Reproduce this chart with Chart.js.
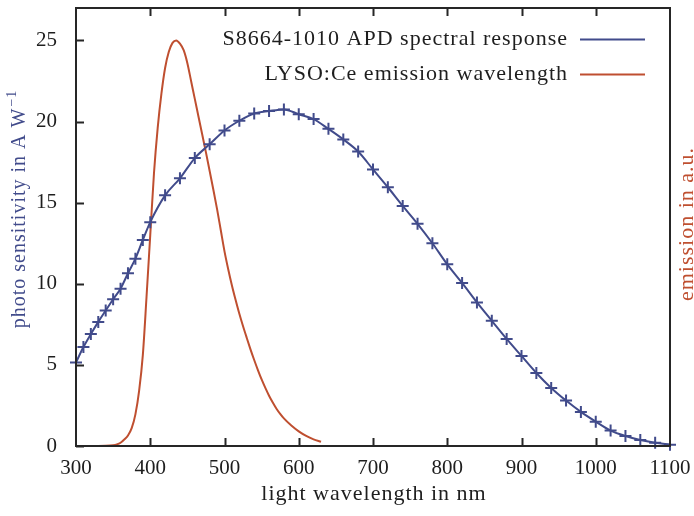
<!DOCTYPE html>
<html>
<head>
<meta charset="utf-8">
<script src="https://cdn.jsdelivr.net/npm/chart.js@4.4.1/dist/chart.umd.min.js"></script>
<style>
  html, body { margin: 0; padding: 0; background: #ffffff; }
  #wrap { width: 694px; height: 516px; }
</style>
</head>
<body>
<div id="wrap"><canvas id="c" width="694" height="516"></canvas></div>
<script>
// APD spectral response (photo sensitivity, A/W) sampled by wavelength in nm
const apdWavelength = [300, 310, 320, 330, 340, 350, 360, 370, 380, 390, 400,
  420, 440, 460, 480, 500, 520, 540, 560, 580, 600, 620, 640, 660, 680, 700,
  720, 740, 760, 780, 800, 820, 840, 860, 880, 900, 920, 940, 960, 980, 1000,
  1020, 1040, 1060, 1080, 1100];
const apdSensitivity = [5.15, 6.1, 6.9, 7.65, 8.35, 9.05, 9.7, 10.65, 11.55, 12.7, 13.8,
  15.45, 16.5, 17.75, 18.6, 19.45, 20.05, 20.5, 20.65, 20.75, 20.45, 20.15, 19.55, 18.9, 18.15, 17.05,
  15.95, 14.8, 13.7, 12.5, 11.2, 10.05, 8.85, 7.72, 6.6, 5.55, 4.5, 3.58, 2.8, 2.1, 1.5,
  0.95, 0.62, 0.37, 0.2, 0.08];

// LYSO:Ce emission spectrum (arbitrary units)
const lysoWavelength = [310, 320, 330, 340, 350, 355, 360, 365, 370, 375, 380, 385, 390, 395,
  400, 405, 410, 415, 420, 425, 430, 435, 440, 445, 450, 455, 460, 465, 470, 475,
  480, 485, 490, 495, 500, 505, 510, 515, 520, 525, 530, 535, 540, 545, 550, 555,
  560, 565, 570, 575, 580, 590, 600, 610, 620, 630];
const lysoEmission = [0, 0, 0, 0.01, 0.05, 0.1, 0.2, 0.4, 0.65, 1.1, 1.95, 3.4, 5.6, 9.2,
  13.0, 16.8, 19.6, 21.7, 23.3, 24.3, 24.85, 25.0, 24.8, 24.4, 23.6, 22.5, 21.4, 20.3, 19.2, 18.1,
  16.95, 15.8, 14.6, 13.3, 12.0, 10.9, 9.9, 9.0, 8.15, 7.38, 6.66, 5.96, 5.3, 4.68, 4.1, 3.58,
  3.1, 2.68, 2.3, 1.98, 1.7, 1.26, 0.9, 0.62, 0.41, 0.26];

const xTickValues = [300, 400, 500, 600, 700, 800, 900, 1000, 1100];
const yTickValues = [0, 5, 10, 15, 20, 25];

const seriesLabels = ['S8664-1010 APD spectral response', 'LYSO:Ce emission wavelength'];
const xTitle = 'light wavelength in nm';
const yTitleMain = 'photo sensitivity in A W';
const yTitleSup = '\u22121';
const y2Title = 'emission in a.u.';

const BLUE = '#414b8b';
const RED = '#bf4f30';
const INK = '#1e1e1e';
const FONT = '"Liberation Serif", "DejaVu Serif", serif';

function toPoints(xs, ys) {
  return xs.map((x, i) => ({ x: x, y: ys[i] }));
}

// keep the plot frame at a fixed place: no extra room for overhanging labels
function noScalePadding(scale) {
  scale.paddingLeft = 0;
  scale.paddingRight = 0;
  scale.paddingTop = 0;
  scale.paddingBottom = 0;
}

// frame, inward ticks, axis titles and legend
const decorations = {
  id: 'decorations',
  afterDatasetsDraw(chart) {
    const ctx = chart.ctx;
    const a = chart.chartArea;
    const xs = chart.scales.x;
    const ys = chart.scales.y;
    ctx.save();
    ctx.strokeStyle = '#262626';
    ctx.lineWidth = 2;
    ctx.beginPath();
    xTickValues.forEach(v => {
      const px = Math.round(xs.getPixelForValue(v)) + 0.5;
      if (v !== xTickValues[0] && v !== xTickValues[xTickValues.length - 1]) {
        ctx.moveTo(px, a.bottom); ctx.lineTo(px, a.bottom - 8);
        ctx.moveTo(px, a.top); ctx.lineTo(px, a.top + 8);
      }
    });
    yTickValues.forEach(v => {
      const py = Math.round(ys.getPixelForValue(v)) + 0.5;
      ctx.moveTo(a.left, py); ctx.lineTo(a.left + 8, py);
    });
    ctx.stroke();
    ctx.strokeRect(a.left, a.top, a.right - a.left, a.bottom - a.top);
    ctx.restore();
  },
  afterDraw(chart) {
    const ctx = chart.ctx;
    const a = chart.chartArea;
    ctx.save();
    ctx.letterSpacing = '1px';

    // x axis title
    ctx.fillStyle = INK;
    ctx.font = '22px ' + FONT;
    ctx.textAlign = 'center';
    ctx.textBaseline = 'middle';
    ctx.fillText(xTitle, (a.left + a.right) / 2 + 1, 494);

    // left axis title with superscript
    ctx.save();
    ctx.translate(18, 209);
    ctx.rotate(-Math.PI / 2);
    ctx.fillStyle = BLUE;
    ctx.font = '20px ' + FONT;
    const w1 = ctx.measureText(yTitleMain).width;
    ctx.font = '14px ' + FONT;
    const w2 = ctx.measureText(yTitleSup).width;
    const start = -(w1 + w2 + 1) / 2;
    ctx.textAlign = 'left';
    ctx.textBaseline = 'alphabetic';
    ctx.font = '20px ' + FONT;
    ctx.fillText(yTitleMain, start, 7);
    ctx.font = '14px ' + FONT;
    ctx.fillText(yTitleSup, start + w1 + 1, -2);
    ctx.restore();

    // right axis title
    ctx.save();
    ctx.translate(687, 224);
    ctx.rotate(-Math.PI / 2);
    ctx.fillStyle = RED;
    ctx.font = '22px ' + FONT;
    ctx.textAlign = 'center';
    ctx.textBaseline = 'middle';
    ctx.fillText(y2Title, 0, 0);
    ctx.restore();

    // legend: text right-aligned, line sample to the right
    ctx.font = '22px ' + FONT;
    ctx.textAlign = 'right';
    ctx.textBaseline = 'middle';
    chart.data.datasets.forEach((ds, i) => {
      const y = 39 + i * 35;
      ctx.fillStyle = INK;
      ctx.fillText(ds.label, 568, y);
      ctx.strokeStyle = ds.borderColor;
      ctx.lineWidth = 2;
      ctx.beginPath();
      ctx.moveTo(580, y + 0.5);
      ctx.lineTo(645, y + 0.5);
      ctx.stroke();
    });
    ctx.restore();
  }
};

new Chart(document.getElementById('c'), {
  type: 'line',
  data: {
    datasets: [
      {
        label: seriesLabels[0],
        data: toPoints(apdWavelength, apdSensitivity),
        borderColor: BLUE,
        backgroundColor: BLUE,
        borderWidth: 2,
        pointStyle: 'cross',
        pointRadius: 6,
        pointBorderWidth: 2,
        pointBorderColor: BLUE,
        cubicInterpolationMode: 'monotone',
        yAxisID: 'y',
        clip: false
      },
      {
        label: seriesLabels[1],
        data: toPoints(lysoWavelength, lysoEmission),
        borderColor: RED,
        backgroundColor: RED,
        borderWidth: 2,
        pointRadius: 0,
        cubicInterpolationMode: 'monotone',
        yAxisID: 'y1'
      }
    ]
  },
  options: {
    responsive: false,
    devicePixelRatio: 1,
    animation: false,
    layout: { padding: { top: 4, left: 0, right: 0, bottom: 0 } },
    plugins: {
      legend: { display: false },
      tooltip: { enabled: false }
    },
    scales: {
      x: {
        type: 'linear',
        min: 300,
        max: 1100,
        afterBuildTicks(scale) { scale.ticks = xTickValues.map(v => ({ value: v })); },
        afterFit(scale) { scale.height = 70; noScalePadding(scale); },
        grid: { display: false, drawTicks: false },
        border: { display: false },
        ticks: {
          padding: 10, color: INK, font: { family: FONT, size: 21 }, maxRotation: 0,
          callback: v => String(v)
        }
      },
      y: {
        type: 'linear',
        position: 'left',
        min: 0,
        max: 27,
        afterBuildTicks(scale) { scale.ticks = yTickValues.map(v => ({ value: v })); },
        afterFit(scale) { scale.width = 76; noScalePadding(scale); },
        grid: { display: false, drawTicks: false },
        border: { display: false },
        ticks: { padding: 19, color: INK, font: { family: FONT, size: 21 }, callback: v => String(v) }
      },
      y1: {
        type: 'linear',
        position: 'right',
        min: 0,
        max: 27,
        afterFit(scale) { scale.width = 24; noScalePadding(scale); },
        grid: { display: false, drawTicks: false },
        border: { display: false },
        ticks: { display: false }
      }
    }
  },
  plugins: [decorations]
});
</script>
</body>
</html>
